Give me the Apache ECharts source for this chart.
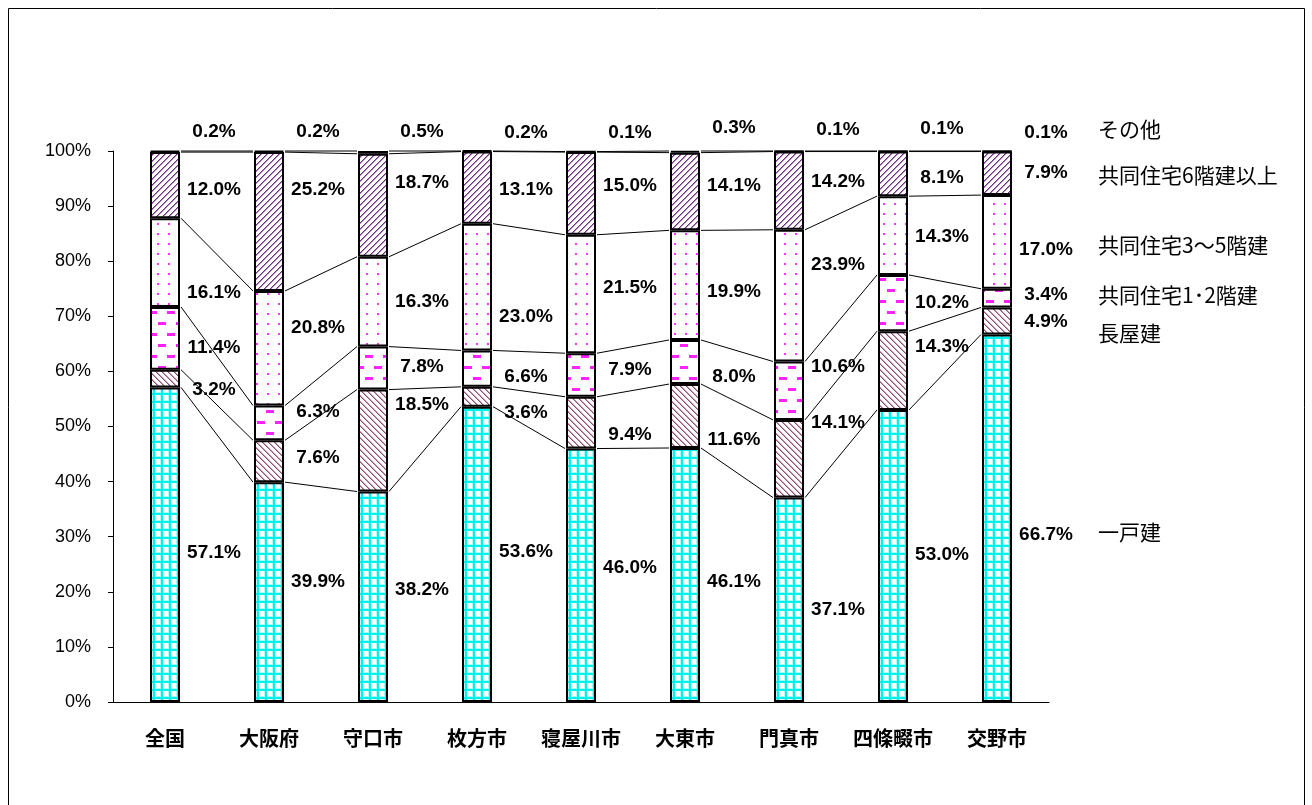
<!DOCTYPE html>
<html><head><meta charset="utf-8">
<script src="https://cdn.jsdelivr.net/npm/echarts@6/dist/echarts.min.js"></script>
<style>html,body{margin:0;padding:0;background:#fff}#c{width:1312px;height:805px}</style>
</head><body><div id="c"></div>
<script>
// ---- data ----
const categories = ['全国','大阪府','守口市','枚方市','寝屋川市','大東市','門真市','四條畷市','交野市'];
const seriesNames = ['一戸建','長屋建','共同住宅1･2階建','共同住宅3～5階建','共同住宅6階建以上','その他'];
const ikkodate = [57.1,39.9,38.2,53.6,46.0,46.1,37.1,53.0,66.7];
const nagaya   = [3.2,7.6,18.5,3.6,9.4,11.6,14.1,14.3,4.9];
const kyodo12  = [11.4,6.3,7.8,6.6,7.9,8.0,10.6,10.2,3.4];
const kyodo35  = [16.1,20.8,16.3,23.0,21.5,19.9,23.9,14.3,17.0];
const kyodo6   = [12.0,25.2,18.7,13.1,15.0,14.1,14.2,8.1,7.9];
const sonota   = [0.2,0.2,0.5,0.2,0.1,0.3,0.1,0.1,0.1];
const values = [ikkodate, nagaya, kyodo12, kyodo35, kyodo6, sonota];

// ---- layout: label anchor heights (axis %) as placed in the picture ----
const labelY = [
  [27.1,21.8,20.3,27.2,24.3,21.8,16.7,26.7,30.3],
  [56.7,44.3,54.0,52.5,48.5,47.6,50.7,64.5,69.0],
  [64.3,52.7,60.9,59.0,60.3,59.0,60.9,72.5,73.9],
  [74.3,67.9,72.7,69.9,75.2,74.5,79.4,84.5,82.1],
  [93.0,93.0,94.3,93.0,93.6,93.6,94.5,95.2,96.1],
  [103.5,103.5,103.5,103.4,103.4,104.3,103.8,104.0,103.4]
];
const nameY = [30.9, 67.0, 73.9, 83.0, 95.7, 103.9];

// ---- patterns ----
function tile(w, h, draw) {
  const c = document.createElement('canvas'); c.width = w; c.height = h;
  const g = c.getContext('2d'); g.fillStyle = '#fff'; g.fillRect(0, 0, w, h); draw(g, w, h); return c;
}
const patGrid = tile(8, 8, g => {
  g.fillStyle = '#A8FCFC'; g.fillRect(0, 0, 8, 3); g.fillRect(0, 0, 3, 8);
  g.fillStyle = '#00F0F0'; g.fillRect(0, 1, 8, 2); g.fillRect(1, 0, 2, 8);
});
function stripes(dir, dark, light) {
  return tile(6, 6, (g, w, h) => {
    for (let x = 0; x < w; x++) for (let y = 0; y < h; y++) {
      const m = dir > 0 ? (x + y) % 6 : ((x - y) % 6 + 6) % 6;
      if (m === 0) { g.fillStyle = dark; g.fillRect(x, y, 1, 1); }
      else if (m === 1) { g.fillStyle = light; g.fillRect(x, y, 1, 1); }
    }
  });
}
const patBack = stripes(-1, '#8E4C70', '#C898B0');
const patFwd = stripes(1, '#6E2C80', '#B088BC');
const patDash = tile(18, 22, g => { g.fillStyle = '#FF22FF';
  g.fillRect(5, 3, 8, 3); g.fillRect(14, 14, 4, 3); g.fillRect(0, 14, 4, 3); });
const patDots = tile(11, 10, g => { g.fillStyle = '#FF33FF'; g.fillRect(3, 3, 2, 2); });
const fills = [
  { image: patGrid, repeat: 'repeat' },
  { image: patBack, repeat: 'repeat' },
  { image: patDash, repeat: 'repeat' },
  { image: patDots, repeat: 'repeat' },
  { image: patFwd, repeat: 'repeat' },
  '#ffffff'
];

const BAR_W = 30;
const chart = echarts.init(document.getElementById('c'));

// bar series
const series = values.map((arr, si) => ({
  type: 'bar', name: seriesNames[si], stack: 'total', barWidth: BAR_W, data: arr,
  itemStyle: { color: fills[si], borderColor: '#000', borderWidth: 2 },
  silent: true, z: 2
}));

// series lines connecting segment tops
const lineData = [];
for (let k = 0; k < values.length; k++) {
  const cum = categories.map((_, i) => values.slice(0, k + 1).reduce((s, a) => s + a[i], 0));
  for (let i = 0; i < categories.length - 1; i++) lineData.push([i, Math.min(cum[i], 100), i + 1, Math.min(cum[i + 1], 100)]);
}
series.push({
  type: 'custom', silent: true, z: 3, data: lineData, encode: { x: [0, 2], y: [1, 3] },
  renderItem(params, api) {
    const p1 = api.coord([api.value(0), api.value(1)]);
    const p2 = api.coord([api.value(2), api.value(3)]);
    return { type: 'line', shape: { x1: p1[0] + BAR_W / 2 + 1, y1: p1[1], x2: p2[0] - BAR_W / 2 - 1, y2: p2[1] },
      style: { stroke: '#000', lineWidth: 1 } };
  }
});

// value labels + series names
const labData = [];
values.forEach((arr, si) => arr.forEach((v, i) => labData.push([i, labelY[si][i], v, si])));
series.push({
  type: 'custom', silent: true, z: 4, clip: false, data: labData, encode: { x: 0, y: 1 },
  renderItem(params, api) {
    const i = api.value(0), si = api.value(3);
    const p = api.coord([i, api.value(1)]);
    const children = [{ type: 'text', x: p[0] + 49, y: p[1],
      style: { text: api.value(2).toFixed(1) + '%', align: 'center', verticalAlign: 'middle',
        font: 'bold 19px "Liberation Sans", Arial, sans-serif', fill: '#000' } }];
    if (i === categories.length - 1) {
      const q = api.coord([i, nameY[si]]);
      children.push({ type: 'text', x: q[0] + 101, y: q[1],
        style: { text: seriesNames[si], align: 'left', verticalAlign: 'middle',
          font: '21px "Noto Sans CJK JP", sans-serif', fill: '#000' } });
    }
    return { type: 'group', children };
  }
});

chart.setOption({
  animation: false,
  backgroundColor: '#fff',
  grid: { left: 113, top: 151, width: 936, height: 551 },
  xAxis: {
    type: 'category', data: categories, boundaryGap: true,
    axisLine: { lineStyle: { color: '#000', width: 1 } },
    axisTick: { show: false },
    axisLabel: { color: '#000', fontSize: 20, fontWeight: 'bold', fontFamily: '"Noto Sans CJK JP", sans-serif', margin: 26 }
  },
  yAxis: {
    type: 'value', min: 0, max: 100, interval: 10,
    axisLine: { show: true, lineStyle: { color: '#000', width: 1 } },
    axisTick: { show: true, length: 5, lineStyle: { color: '#000' } },
    splitLine: { show: false },
    axisLabel: { color: '#000', fontSize: 18, fontFamily: '"Liberation Sans", Arial, sans-serif', margin: 22, formatter: '{value}%' }
  },
  graphic: [{ type: 'rect', shape: { x: 8.5, y: 8.5, width: 1296, height: 810 }, style: { fill: 'none', stroke: '#000', lineWidth: 1 }, silent: true }],
  series
});
</script></body></html>
